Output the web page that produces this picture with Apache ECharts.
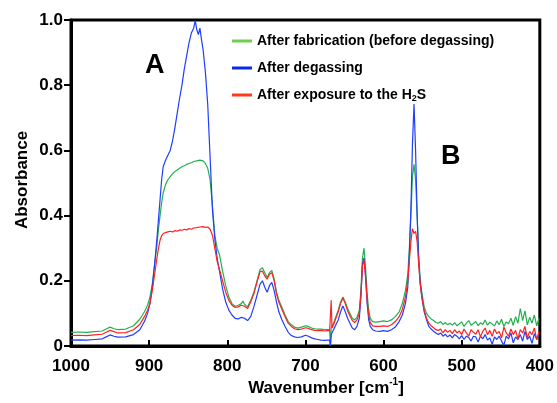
<!DOCTYPE html>
<html><head><meta charset="utf-8">
<script src="https://cdn.jsdelivr.net/npm/echarts@6/dist/echarts.min.js"></script>
<style>html,body{margin:0;padding:0;background:#fff}#c{width:557px;height:403px}</style>
</head><body><div id="c"></div><script>
// Wavenumber (cm-1) sample positions shared by all three spectra
const wavenumbers = [
  1000, 990, 980, 970, 960, 955, 950, 945, 940, 930,
  920, 912, 906, 902, 899, 896, 893, 890, 888, 886,
  884, 882, 879, 876, 873, 870, 867, 864, 861, 858,
  855, 852, 849, 846, 843, 841, 839, 837, 835, 833,
  831, 828, 825, 822, 819, 816, 813, 810, 806, 802,
  798, 794, 790, 786, 782, 780, 778, 774, 770, 766,
  762, 758, 755, 752, 749, 746, 743, 740, 737, 734,
  730, 726, 722, 718, 714, 710, 705, 700, 696, 692,
  688, 684, 680, 676, 672, 669, 668, 667, 666, 664,
  661, 658, 655, 652, 649, 646, 643, 640, 637, 634,
  631, 629, 627, 625, 623, 621, 619, 617, 614, 610,
  605, 600, 595, 590, 585, 580, 576, 572, 569, 567,
  565, 563, 561, 559, 557, 555, 553, 551, 548, 545,
  542, 539, 536, 533, 530, 527, 524, 521, 518, 515,
  512, 509, 506, 503, 500, 497, 494, 491, 488, 485,
  482, 479, 476, 473, 470, 467, 464, 461, 458, 455,
  452, 449, 446, 443, 440, 437, 434, 431, 428, 425,
  422, 419, 416, 413, 410, 407, 404, 401
];
// After fabrication (before degassing) - green
const afterFabrication = [
  0.042, 0.043, 0.042, 0.044, 0.046, 0.052, 0.058, 0.053, 0.050, 0.052,
  0.062, 0.082, 0.105, 0.125, 0.150, 0.190, 0.250, 0.310, 0.360, 0.400,
  0.440, 0.470, 0.495, 0.510, 0.520, 0.528, 0.535, 0.540, 0.545, 0.550,
  0.553, 0.557, 0.560, 0.562, 0.566, 0.563, 0.568, 0.565, 0.570, 0.566,
  0.568, 0.560, 0.545, 0.510, 0.430, 0.340, 0.300, 0.280, 0.230, 0.185,
  0.150, 0.130, 0.122, 0.125, 0.130, 0.138, 0.128, 0.120, 0.140, 0.165,
  0.200, 0.235, 0.240, 0.225, 0.210, 0.225, 0.232, 0.205, 0.165, 0.140,
  0.118, 0.095, 0.075, 0.065, 0.058, 0.055, 0.058, 0.062, 0.060, 0.055,
  0.053, 0.052, 0.052, 0.050, 0.050, 0.050, 0.000, 0.055, 0.060, 0.070,
  0.090, 0.110, 0.135, 0.150, 0.135, 0.115, 0.100, 0.085, 0.080, 0.088,
  0.110, 0.170, 0.270, 0.300, 0.240, 0.160, 0.110, 0.085, 0.075, 0.073,
  0.075, 0.077, 0.075, 0.080, 0.090, 0.105, 0.130, 0.170, 0.220, 0.300,
  0.400, 0.520, 0.557, 0.510, 0.400, 0.280, 0.200, 0.165, 0.120, 0.100,
  0.090, 0.083, 0.078, 0.072, 0.070, 0.075, 0.066, 0.072, 0.065, 0.070,
  0.064, 0.072, 0.062, 0.068, 0.074, 0.060, 0.070, 0.078, 0.064, 0.069,
  0.075, 0.062, 0.071, 0.066, 0.080, 0.064, 0.073, 0.068, 0.061, 0.077,
  0.065, 0.082, 0.060, 0.074, 0.068, 0.085, 0.063, 0.090, 0.070, 0.115,
  0.078, 0.108, 0.065, 0.088, 0.070, 0.095, 0.062, 0.085
];
// After degassing - blue
const afterDegassing = [
  0.018, 0.019, 0.018, 0.020, 0.022, 0.028, 0.034, 0.030, 0.027, 0.028,
  0.035, 0.050, 0.075, 0.100, 0.130, 0.180, 0.250, 0.330, 0.390, 0.450,
  0.510, 0.550, 0.570, 0.585, 0.600, 0.630, 0.670, 0.715, 0.760, 0.800,
  0.850, 0.890, 0.930, 0.960, 0.975, 0.998, 0.970, 0.955, 0.975, 0.940,
  0.910, 0.840, 0.740, 0.580, 0.420, 0.330, 0.270, 0.230, 0.175, 0.135,
  0.110, 0.095, 0.085, 0.083, 0.088, 0.092, 0.085, 0.078, 0.090, 0.120,
  0.155, 0.190, 0.200, 0.180, 0.165, 0.185, 0.195, 0.170, 0.135, 0.105,
  0.080, 0.060, 0.042, 0.032, 0.028, 0.026, 0.028, 0.033, 0.030, 0.025,
  0.022, 0.020, 0.018, 0.017, 0.018, 0.018, 0.000, 0.035, 0.040, 0.050,
  0.065, 0.080, 0.105, 0.123, 0.105, 0.085, 0.070, 0.055, 0.050, 0.060,
  0.085, 0.150, 0.250, 0.270, 0.210, 0.130, 0.080, 0.060, 0.050, 0.046,
  0.045, 0.047, 0.045, 0.050, 0.058, 0.075, 0.095, 0.130, 0.180, 0.280,
  0.420, 0.620, 0.742, 0.600, 0.400, 0.260, 0.190, 0.150, 0.105, 0.080,
  0.060, 0.052, 0.045, 0.040, 0.035, 0.040, 0.030, 0.036, 0.028, 0.034,
  0.025, 0.035, 0.030, 0.022, 0.032, 0.020, 0.030, 0.026, 0.015, 0.030,
  0.028, 0.012, 0.030, 0.022, 0.035, 0.018, 0.025, 0.005, 0.028, 0.020,
  0.030, 0.015, 0.002, 0.030, 0.022, 0.040, 0.010, 0.028, 0.020, 0.035,
  0.015, 0.045, 0.020, 0.030, 0.008, 0.038, 0.020, 0.030
];
// After exposure to the H2S - red
const afterExposure = [
  0.032, 0.033, 0.032, 0.034, 0.036, 0.042, 0.048, 0.044, 0.040, 0.041,
  0.050, 0.066, 0.090, 0.110, 0.130, 0.170, 0.220, 0.270, 0.300, 0.325,
  0.338, 0.345, 0.348, 0.350, 0.352, 0.350, 0.354, 0.352, 0.356, 0.355,
  0.358, 0.356, 0.360, 0.358, 0.362, 0.360, 0.363, 0.361, 0.365, 0.362,
  0.366, 0.364, 0.365, 0.358, 0.340, 0.300, 0.260, 0.235, 0.200, 0.165,
  0.140, 0.125, 0.118, 0.120, 0.125, 0.130, 0.122, 0.115, 0.135, 0.160,
  0.195, 0.228, 0.230, 0.215, 0.205, 0.220, 0.225, 0.200, 0.160, 0.135,
  0.112, 0.090, 0.070, 0.060, 0.053, 0.050, 0.052, 0.056, 0.054, 0.050,
  0.048, 0.047, 0.048, 0.046, 0.047, 0.047, 0.050, 0.140, 0.055, 0.065,
  0.085, 0.105, 0.130, 0.147, 0.130, 0.108, 0.092, 0.078, 0.072, 0.080,
  0.100, 0.155, 0.245, 0.265, 0.215, 0.140, 0.095, 0.072, 0.062, 0.060,
  0.060, 0.062, 0.060, 0.065, 0.075, 0.090, 0.112, 0.150, 0.200, 0.260,
  0.320, 0.360, 0.345, 0.352, 0.320, 0.250, 0.190, 0.150, 0.110, 0.085,
  0.070, 0.062, 0.056, 0.050, 0.048, 0.052, 0.040, 0.050, 0.042, 0.048,
  0.038, 0.050, 0.040, 0.046, 0.035, 0.052, 0.040, 0.030, 0.050, 0.042,
  0.036, 0.050, 0.028, 0.045, 0.055, 0.035, 0.048, 0.030, 0.052, 0.038,
  0.045, 0.025, 0.058, 0.040, 0.030, 0.052, 0.035, 0.048, 0.022, 0.050,
  0.040, 0.060, 0.025, 0.045, 0.035, 0.055, 0.020, 0.045
];
const seriesNames = ['After fabrication (before degassing)', 'After degassing', 'After exposure to the H2S'];
const xMin = 400, xMax = 1000, xStep = 100;
const yMin = 0, yMax = 1.0, yStep = 0.2;

const FONT = 'Liberation Sans, Arial, sans-serif';
const lineColors = ['#23b04f', '#1f3dff', '#ff2222'];
const legendColors = ['#6fce4f', '#0a28f2', '#ff3a1a'];

function pairs(vals) { return wavenumbers.map((w, i) => [w, vals[i]]); }
const allVals = [afterFabrication, afterDegassing, afterExposure];

const chart = echarts.init(document.getElementById('c'), null, {renderer: 'canvas'});
chart.setOption({
  animation: false,
  backgroundColor: '#fff',
  grid: {left: 71, top: 20, width: 469, height: 326, show: true, borderColor: '#000', borderWidth: 3, backgroundColor: 'transparent'},
  xAxis: {
    type: 'value', inverse: true, min: xMin, max: xMax, interval: xStep,
    axisLine: {lineStyle: {color: '#000', width: 3}},
    axisTick: {inside: true, length: 6, lineStyle: {color: '#000', width: 2}},
    axisLabel: {color: '#000', fontFamily: FONT, fontWeight: 'bold', fontSize: 17, margin: 12,
      formatter: v => String(Math.round(v))},
    splitLine: {show: false}
  },
  yAxis: {
    type: 'value', min: yMin, max: yMax, interval: yStep,
    axisLine: {show: true, lineStyle: {color: '#000', width: 3}},
    axisTick: {show: true, inside: false, length: 7, lineStyle: {color: '#000', width: 2}},
    axisLabel: {color: '#000', fontFamily: FONT, fontWeight: 'bold', fontSize: 17, margin: 8,
      formatter: v => v === 0 ? '0' : v.toFixed(1)},
    splitLine: {show: false}
  },
  legend: {
    orient: 'vertical', left: 227, top: 29, itemWidth: 20, itemHeight: 3, itemGap: 13, icon: 'rect',
    data: seriesNames.map((n, i) => ({name: n, itemStyle: {color: legendColors[i]}})),
    formatter: name => name === seriesNames[2]
      ? '{n|After exposure to the H}{sub|2}{n|S}' : '{n|' + name + '}',
    textStyle: {
      rich: {
        n: {fontFamily: FONT, fontWeight: 'bold', fontSize: 14, color: '#000', lineHeight: 16},
        sub: {fontFamily: FONT, fontWeight: 'bold', fontSize: 9, color: '#000', lineHeight: 16, verticalAlign: 'bottom'}
      }
    }
  },
  series: seriesNames.map((n, i) => ({
    name: n, type: 'line', data: pairs(allVals[i]), showSymbol: false, symbol: 'none',
    lineStyle: {color: lineColors[i], width: 1.2}, itemStyle: {color: lineColors[i]},
    z: 2 + i
  })),
  graphic: [
    {type: 'text', left: 145, top: 52, style: {text: 'A', font: 'bold 27px ' + FONT, fill: '#000'}},
    {type: 'text', left: 441, top: 143, style: {text: 'B', font: 'bold 27px ' + FONT, fill: '#000'}},
    {type: 'text', x: 22, y: 180, rotation: Math.PI / 2,
      style: {text: 'Absorbance', font: 'bold 17px ' + FONT, fill: '#000', align: 'center', verticalAlign: 'middle'}},
    {type: 'text', x: 326, y: 387,
      style: {text: '{b|Wavenumber [cm}{s|-1}{b|]}', align: 'center', verticalAlign: 'middle',
        rich: {
          b: {fontFamily: FONT, fontWeight: 'bold', fontSize: 17, fill: '#000', lineHeight: 20, verticalAlign: 'bottom'},
          s: {fontFamily: FONT, fontWeight: 'bold', fontSize: 10, fill: '#000', lineHeight: 20, verticalAlign: 'top'}
        }}}
  ]
});
</script></body></html>
